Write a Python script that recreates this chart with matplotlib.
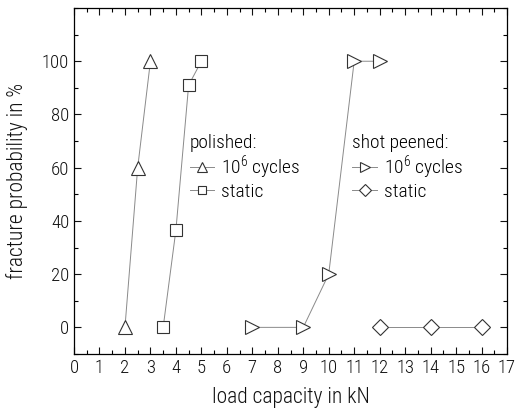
import matplotlib
matplotlib.use('Agg')
import matplotlib.pyplot as plt
import matplotlib as mpl
from matplotlib.ticker import MultipleLocator

mpl.rcParams.update({
    'font.family': ['Roboto Condensed', 'DejaVu Sans'],
    'font.weight': 300,
    'axes.labelweight': 300,
    'font.size': 12,
    'mathtext.fontset': 'custom',
    'mathtext.rm': 'Roboto Condensed:light',
    'axes.linewidth': 0.9,
    'xtick.direction': 'in',
    'ytick.direction': 'in',
    'xtick.top': True,
    'ytick.right': True,
    'xtick.major.size': 5,
    'ytick.major.size': 5,
    'xtick.minor.size': 3,
    'ytick.minor.size': 3,
    'xtick.major.width': 0.8,
    'ytick.major.width': 0.8,
    'xtick.minor.width': 0.8,
    'ytick.minor.width': 0.8,
})

# polished
pol_cyc_load = [2, 2.5, 3]
pol_cyc_prob = [0, 60, 100]
pol_sta_load = [3.5, 4, 4.5, 5]
pol_sta_prob = [0, 36.5, 91, 100]
# shot peened
sp_cyc_load = [7, 9, 10, 11, 12]
sp_cyc_prob = [0, 0, 20, 100, 100]
sp_sta_load = [12, 14, 16]
sp_sta_prob = [0, 0, 0]

line_c = '#8a8a8a'
edge_c = '#333333'
txt_c = '#111111'

fig = plt.figure(figsize=(5.15, 4.13), dpi=100)
ax = fig.add_axes([0.1437, 0.1429, 0.8408, 0.8377])

style = dict(color=line_c, lw=0.7, mfc='white', mec=edge_c, mew=0.8)
l1, = ax.plot(pol_cyc_load, pol_cyc_prob, marker='^', ms=10.5, **style)
l2, = ax.plot(pol_sta_load, pol_sta_prob, marker='s', ms=8.5, **style)
l3, = ax.plot(sp_cyc_load, sp_cyc_prob, marker='>', ms=10.5, **style)
l4, = ax.plot(sp_sta_load, sp_sta_prob, marker='D', ms=8, **style)

ax.set_xlim(0, 17)
ax.set_ylim(-10, 120)
ax.xaxis.set_major_locator(MultipleLocator(1))
ax.xaxis.set_minor_locator(MultipleLocator(0.5))
ax.set_yticks([0, 20, 40, 60, 80, 100])
ax.yaxis.set_minor_locator(MultipleLocator(10))
ax.tick_params(labelsize=13.5, colors=txt_c)

ax.set_xlabel('load capacity in kN', fontsize=15.5, color=txt_c, labelpad=7)
ax.set_ylabel('fracture probability in %', fontsize=15.5, color=txt_c, labelpad=10)

leg_kw = dict(loc='upper left', frameon=False, fontsize=14, title_fontsize=14,
              handlelength=1.25, handletextpad=0.35, labelspacing=0.05,
              borderaxespad=0, borderpad=0, markerscale=0.75)
leg1 = ax.legend([l1, l2], ['10$^6$ cycles', 'static'], title='polished:',
                 bbox_to_anchor=(0.268, 0.635), **leg_kw)
leg1._legend_box.align = 'left'
ax.add_artist(leg1)
leg2 = ax.legend([l3, l4], ['10$^6$ cycles', 'static'], title='shot peened:',
                 bbox_to_anchor=(0.643, 0.635), **leg_kw)
leg2._legend_box.align = 'left'

fig.savefig('out.png', dpi=100)
